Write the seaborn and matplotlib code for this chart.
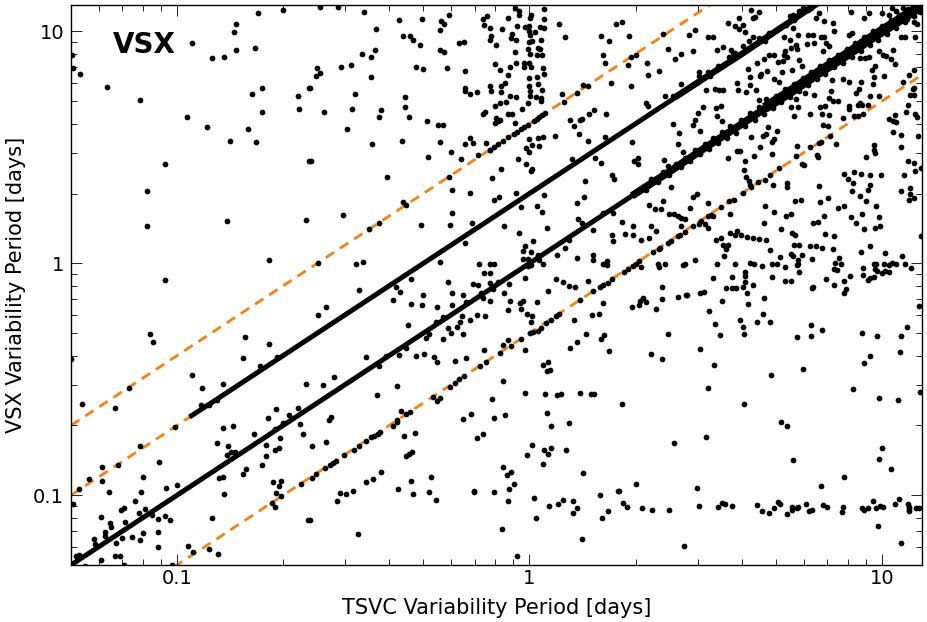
import numpy as np
import pandas as pd
import seaborn as sns
import matplotlib.pyplot as plt
from matplotlib.ticker import FuncFormatter, NullFormatter, LogLocator

# everything below is log10(period in days): (TSVC, VSX)
x_limits = np.array([0.05, 13.0])
y_limits = np.array([0.05, 13.0])
guide_ratios = [0.5, 2.0, 4.0]
x_ticks = [0.1, 1, 10]
y_ticks = [0.1, 1, 10]

# the solid runs of stars along P(VSX) = P(TSVC) and P(VSX) = 2 P(TSVC)
equal_run_tsvc = [-1.301, -1.2, -1.1, -1.0, -0.9, -0.8, -0.7, -0.6, -0.5, -0.4, -0.3, -0.2, -0.1, 0.0,
                  0.1, 0.2, 0.3, 0.4, 0.5, 0.6, 0.7, 0.8, 0.9, 1.0, 1.114]
equal_run_vsx = [-1.301, -1.2, -1.1, -1.0, -0.9, -0.8, -0.7, -0.6, -0.5, -0.4, -0.3, -0.2, -0.1, 0.0,
                 0.1, 0.2, 0.3, 0.4, 0.5, 0.6, 0.7, 0.8, 0.9, 1.0, 1.114]
double_run_tsvc = [-0.959, -0.9, -0.8, -0.7, -0.6, -0.5, -0.4, -0.3, -0.2, -0.1, 0.0, 0.1, 0.2, 0.3,
                   0.4, 0.5, 0.6, 0.7, 0.81]
double_run_vsx = [-0.657, -0.599, -0.499, -0.399, -0.299, -0.199, -0.099, 0.001, 0.101, 0.201, 0.301,
                  0.401, 0.501, 0.601, 0.701, 0.801, 0.901, 1.001, 1.114]

# the same runs where the stars pile up and the band gets wider
equal_band_tsvc = [0.3, 0.4, 0.5, 0.6, 0.7, 0.8, 0.9, 1.0, 1.114]
equal_band_vsx = [0.3, 0.398, 0.5, 0.598, 0.7, 0.802, 0.9, 1.002, 1.114]
equal_band_wide_tsvc = [0.68, 0.75, 0.82, 0.9, 0.97, 1.04, 1.114]
equal_band_wide_vsx = [0.682, 0.75, 0.822, 0.9, 0.972, 1.04, 1.114]
double_band_tsvc = [0.42, 0.5, 0.6, 0.7, 0.81]
double_band_vsx = [0.723, 0.802, 0.9, 1.002, 1.114]

upper_left = [(-1.299, .899), (-1.296, .843), (-1.275, .815), (-1.2, .761), (-1.104, .703), (-1.034, .428),
              (-1.086, .313), (-.972, .632), (-.916, .589), (-.851, .529), (-.8, .579), (-.776, .524),
              (-.788, .73), (-.758, .754), (-.759, .654), (-.658, .72), (-.655, .667), (-.625, .756),
              (-.625, .441), (-.959, .948), (-.902, .885), (-.866, .888), (-.834, .918), (-.839, .999),
              (-.832, 1.03), (-.778, .927), (-.769, 1.079), (-.699, 1.093)]

upper_middle = [(-.593, 1.105), (-.544, 1.105), (-.47, 1.083), (-.371, 1.049), (-.304, 1.052), (-.252, 1.046),
                (-.243, 1.034), (-.229, 1.069), (-.253, 1.007), (-.436, 1.009), (-.359, .981), (-.338, .98),
                (-.331, .963), (-.311, .941), (-.438, .922), (-.475, .904), (-.449, .891), (-.254, .921),
                (-.243, .911), (-.2, .948), (-.186, .955), (-.132, 1.053), (-.12, 1.065), (-.128, 1.027),
                (-.112, 1.013), (-.078, 1.011), (-.061, 1.056), (-.042, 1.101), (-.03, 1.086), (-.03, 1.072),
                (.004, 1.069), (.002, 1.057), (.04, 1.098), (.04, 1.053), (.041, 1.013), (.029, 1.02),
                (-.034, 1.023), (-.014, 1.017), (0, 1.022), (-.002, 1.003), (.002, .986), (.015, .999),
                (-.049, .99), (-.053, .971), (-.039, .963), (-.108, .98), (-.113, .963), (-.096, .941),
                (0, .954), (.008, .957), (.034, .963), (.025, .928), (.029, .925), (-.003, .925),
                (-.04, .911), (.001, .902), (.022, .897), (.035, .899), (-.098, .861), (-.084, .835),
                (-.054, .846), (-.038, .864), (-.016, .864), (-.016, .848), (0, .864), (.004, .846),
                (.039, .843), (.04, .816), (-.061, .813), (.021, .805), (-.001, .799), (.025, .772),
                (0, .764), (.036, .746), (.001, .741), (.001, .723), (.018, .716), (.032, .713),
                (.033, .7), (-.005, .691), (-.02, .667), (-.039, .716), (-.054, .721), (-.068, .695),
                (-.085, .691), (-.097, .68), (-.069, .776), (-.08, .763), (-.081, .739), (-.113, .766),
                (-.109, .741), (-.148, .737), (-.169, .731), (-.182, .754), (-.184, .741), (-.182, .829),
                (-.233, .842), (-.303, .839), (-.322, .845), (-.451, .802), (-.506, .855), (-.534, .845),
                (-.602, .842), (-.593, .82), (-.605, .807), (-.622, .756), (-.496, .73), (-.353, .717),
                (-.352, .675), (-.343, .632), (-.422, .661), (-.426, .631), (-.503, .664), (-.584, .654),
                (-.519, .579), (-.447, .513), (-.363, .526), (-.292, .615), (-.26, .596), (-.246, .596),
                (-.253, .522), (-.287, .458), (-.222, .48), (-.193, .451), (-.182, .516), (-.17, .54),
                (-.159, .519), (-.147, .468), (-.122, .519), (-.113, .49), (-.08, .408), (-.107, .368),
                (-.228, .374), (-.219, .318), (-.17, .305), (-.403, .374), (-.621, .441), (-.358, .263),
                (-.351, .25), (-.101, .273), (-.086, .286), (-.037, .303), (-.025, .241), (.022, .249),
                (.041, .296), (.136, .261), (.156, .284), (.157, .356), (.234, .382), (.241, .364),
                (.202, .434), (.187, .454), (.122, .45), (-.01, .43), (.005, .397), (.008, .407),
                (-.033, .451), (-.001, .48), (-.009, .497), (.008, .509), (.028, .504), (-.001, .536),
                (.025, .54), (.039, .545), (.072, .547), (.141, .556), (.125, .591), (.114, .619),
                (.165, .529), (.213, .545), (.218, .642), (.184, .661), (.168, .642), (.149, .622),
                (.144, .619), (.151, .77), (.165, .764), (.135, .736), (.097, .695), (.092, .731),
                (.232, .776), (.213, .865), (.209, .899), (.226, .96), (.204, .98), (.245, 1.03),
                (.084, 1.033), (.1, .977), (-.126, .651), (-.132, .645), (-.094, .626), (-.088, .615),
                (-.099, .605), (-.083, .616), (-.061, .644), (-.05, .645), (-.041, .605)]

quadruple_run = [(-.113, .49), (-.1, .503), (-.09, .513), (-.075, .528), (-.06, .544), (-.045, .558),
                 (-.035, .568), (-.025, .578), (-.015, .588), (-.005, .598), (.012, .615), (.02, .623),
                 (.028, .631), (.036, .64), (.045, .65)]

upper_right = [(.264, 1.039), (.283, .981), (.281, .856), (.287, .888), (.301, .899), (.333, .865), (.337, .81),
               (.368, .829), (.287, .763), (.393, .924), (.379, .991), (.413, .879), (.429, .904), (.465, .915),
               (.453, .986), (.47, 1.007), (.507, .977), (.52, .977), (.532, .921), (.548, .932), (.562, 1.036),
               (.583, 1.022), (.594, 1.057), (.605, 1.027), (.596, 1.011), (.611, .997), (.635, .978),
               (.629, 1.091), (.652, 1.083), (.633, 1.059), (.641, 1.062), (.572, .921), (.579, .907),
               (.5, .749), (.527, .75), (.537, .747), (.549, .747), (.59, .776), (.592, .749), (.614, .738),
               (.627, .802), (.62, .838), (.645, .862), (.665, .881), (.68, .899), (.695, .899), (.705, .868),
               (.719, .871), (.725, .917), (.721, .899), (.731, .889), (.743, .928), (.758, .925), (.764, .878),
               (.774, .853), (.744, .835), (.716, .826), (.695, .796), (.707, .784), (.674, .828), (.657, .818),
               (.653, .806), (.627, .77), (.643, .749), (.651, .705), (.672, .71), (.529, .671), (.544, .68),
               (.492, .672), (.478, .647), (.47, .618), (.463, .598), (.407, .601), (.425, .56), (.422, .516),
               (.483, .57), (.531, .634), (.547, .612), (.292, .524), (.308, .454), (.296, .441), (.309, .427),
               (.381, .447), (.392, .421), (.435, .481), (.562, .454), (.588, .483), (.598, .484), (.612, .443),
               (.61, .404), (.636, .464), (.653, .5), (.629, .543), (.662, .55), (.671, .557), (.676, .588),
               (.702, .57), (.695, .537), (.688, .524), (.688, .471), (.76, .504), (.756, .461), (.796, .501),
               (.819, .458), (.817, .467), (.826, .522), (.853, .55), (.871, .516), (.834, .596), (.848, .59),
               (.831, .644), (.851, .638), (.825, .675), (.839, .677), (.875, .698), (.861, .698), (.851, .713),
               (.857, .741), (.908, .667), (.906, .677), (.891, .626), (.922, .635), (.932, .684), (.943, .684),
               (.961, .684), (.938, .693), (.967, .72), (.993, .72), (.936, .751), (.928, .734), (.941, .784),
               (.975, .774), (.978, .802), (.973, .835), (1.007, .806), (1.036, .861), (1.026, .881), (.98, .853),
               (.963, .888), (.951, .885), (.937, .885), (.908, .783), (.889, .796), (.859, .792), (.807, .727),
               (.781, .733), (.755, .71), (.761, .674), (.751, .637), (.743, .674), (.795, .644), (1.076, .81),
               (1.091, .832), (1.059, .78), (1.09, .756), (1.08, .724), (1.091, .724), (1.074, .681), (1.068, .651),
               (1.095, .644), (1.099, .629), (1.019, .624), (1.037, .641), (1.031, .612), (1.04, .611), (1.033, .565),
               (1.054, .552), (1.103, .55), (1.055, .501), (.977, .509), (.979, .487), (.981, .476), (.954, .458),
               (1.075, .443), (1.09, .434), (1.111, .411), (1.094, .397), (1.062, .382), (.999, .382), (.965, .382),
               (.942, .387), (.922, .395), (.893, .385), (.904, .364), (.919, .345), (.966, .338), (.962, .318),
               (.915, .31), (.937, .292), (.956, .267), (.983, .246), (1.053, .312), (1.08, .323), (1.08, .297),
               (1.076, .272), (1.09, .282), (.823, .333), (.825, .263), (.846, .283), (.876, .237), (.892, .249),
               (.754, .269), (.771, .274), (.669, .247), (.732, .348), (.732, .331), (.692, .336), (.508, .261),
               (.476, .299), (.463, .287), (.401, .328), (.456, .238), (.338, .25), (.378, .267), (.355, .236),
               (.374, .236), (.615, .372), (.622, .353), (.626, .339), (.607, .305)]

half_run_upper = [(.544, .241), (.567, .267), (.58, .272), (.629, .328), (.648, .349), (.667, .358), (.683, .379),
                  (.709, .411), (.78, .425), (.773, .428), (.823, .519), (.946, .644), (.931, .634), (1.088, .753)]

double_run_scatter = [(.332, .691), (.337, .68), (.385, .72), (.407, .72), (.429, .773), (.435, .741), (.482, .823),
                      (.48, .806), (.478, .784), (.506, .825), (.511, .806), (.534, .849), (.567, .888), (.582, .907),
                      (.605, .935), (.624, .957), (.652, .971), (.667, .957), (.681, .993), (.7, 1.007), (.729, 1.029),
                      (.738, 1.065), (.752, 1.05), (.766, 1.086), (.79, 1.093), (.823, 1.079), (.813, 1.057),
                      (.799, 1.101), (.79, .986), (.804, .986), (.827, .978), (.835, .978), (.787, .945), (.807, .95),
                      (.842, .95), (.851, .935), (.832, .914), (.738, .964), (.757, .943), (.747, 1.014), (.723, .978),
                      (.761, .986), (.747, 1.072), (.775, 1.101), (.86, 1.036), (.912, 1.082), (.95, 1.057), (.963, 1.079),
                      (.837, 1.043), (.865, 1.003), (.908, .986), (.914, .993), (.942, .96), (.96, .971), (.993, .914),
                      (1.002, .899), (1.012, .892), (1.031, .921), (1.053, .978), (1.067, .978), (1.095, .978)]

equal_run_scatter = [(.33, .318), (.345, .362), (.365, .35), (.38, .395), (.395, .382), (.415, .43), (.43, .417),
                     (.44, .455), (.455, .44), (.47, .487), (.485, .47), (.497, .515), (.51, .493), (.52, .54),
                     (.535, .517), (.545, .565), (.56, .54), (.57, .592), (.585, .563), (.6, .62), (.612, .592),
                     (.625, .65), (.64, .618), (.65, .675), (.665, .645), (.675, .7), (.69, .668), (.7, .722),
                     (.715, .695), (.725, .75), (.74, .718), (.75, .775), (.765, .745), (.775, .8), (.79, .77),
                     (.8, .825), (.815, .795), (.825, .85), (.84, .815), (.85, .875), (.865, .845), (.875, .9),
                     (.89, .865), (.9, .925), (.915, .89), (.925, .95), (.94, .915), (.95, .975), (.965, .94),
                     (.975, 1.0), (.99, .965), (1.0, 1.025), (1.015, .99), (1.025, 1.05), (1.04, 1.015), (1.05, 1.07),
                     (1.065, 1.04), (1.075, 1.095), (1.09, 1.065), (1.1, 1.105), (1.108, 1.085), (1.02, 1.07),
                     (1.04, 1.09), (1.06, 1.1), (1.08, 1.08), (1.09, 1.04), (1.1, 1.03), (1.05, 1.045), (1.03, 1.1),
                     (1.0, 1.08), (1.07, 1.055), (-.407, -.401), (-.265, -.253), (-.246, -.233), (-.18, -.167),
                     (-.137, -.128), (-.132, -.149), (-.104, -.109), (-.09, -.082), (-.005, -.013), (.028, .016),
                     (.113, .102), (.208, .217), (.236, .217), (-.723, -.713), (-.7, -.688)]

middle_left = [(-1.085, .159), (-.858, .182), (-.633, .185), (-.738, .013), (-1.035, -.073), (-1.078, -.305),
               (-1.069, -.338), (-.807, -.318), (-.739, -.349), (-1.3, -.412), (-.812, -.407), (-.717, -.404),
               (-.957, -.48), (-.765, -.444), (-.93, -.537), (-.869, -.52), (-.634, -.519), (-1.136, -.539),
               (-1.27, -.606), (-1.177, -.622), (-.933, -.612), (-.909, -.609), (-.888, -.588), (-.742, -.667),
               (-.72, -.628), (-.657, -.624), (-.681, -.655)]

middle_middle = [(-.53, .21), (-.428, .172), (-.454, .148), (-.599, .001), (-.492, -.001), (-.472, .007), (-.307, .167),
                 (-.226, .165), (-.22, .217), (-.162, .172), (-.073, .162), (-.031, .131), (.051, .152), (.035, .221),
                 (-.484, -.116), (-.386, -.157), (-.368, -.125), (-.379, -.103), (-.337, -.069), (-.301, -.138),
                 (-.337, -.174), (-.304, -.181), (-.263, -.187), (-.577, -.19), (-.6, -.221), (-.344, -.264),
                 (-.254, .004), (-.182, .089), (-.23, -.079), (-.22, -.126), (-.188, -.136), (-.22, -.178),
                 (-.16, -.089), (-.145, -.093), (-.143, -.004), (-.111, -.003), (-.101, -.003), (-.128, -.042),
                 (-.113, -.042), (-.111, -.086), (-.059, -.091), (-.071, -.129), (-.113, -.164), (-.055, -.164),
                 (-.062, -.201), (-.027, -.172), (-.019, -.161), (-.023, -.197), (.022, -.165), (-.006, -.22),
                 (.007, -.226), (.005, -.254), (-.012, -.063), (.054, -.118), (.074, -.068), (.096, -.08),
                 (.112, -.098), (.128, -.102), (.167, -.075), (.143, -.159), (.209, -.172), (.197, -.218),
                 (.177, -.224), (.126, -.246), (.135, .023), (.181, .034), (.181, .016), (.208, -.003), (.22, .011),
                 (.219, -.006), (.077, .036), (.1, .066), (.011, .098), (-.012, .076), (-.017, .052), (.003, .049),
                 (-.019, .02), (-.005, .02), (.003, -.006), (.024, .037), (.038, -.001), (.233, .124), (.236, .096),
                 (.179, .142), (.138, .19), (.149, .174), (-.191, -.227), (-.197, -.251), (-.17, -.243), (-.149, -.224),
                 (-.127, -.226), (-.205, -.274), (-.232, -.279), (-.223, -.299), (-.19, -.303), (-.244, -.325),
                 (-.293, -.322), (-.284, -.306), (-.13, -.374), (-.012, -.375), (.114, -.366), (.136, -.339),
                 (.161, -.305), (.211, -.31), (.202, -.328), (.226, -.379), (-.323, -.399), (-.298, -.389),
                 (-.465, -.405), (-.369, -.394), (-.35, -.365), (-.27, -.405), (-.263, -.425), (-.211, -.421),
                 (-.179, -.409), (-.14, -.444), (-.123, -.425), (-.426, -.444), (-.586, -.526), (-.555, -.489),
                 (-.375, -.529), (-.433, -.57), (-.274, -.576), (-.255, -.583), (-.261, -.595), (-.364, -.636),
                 (-.339, -.641), (-.35, -.652), (-.563, -.661), (-.57, -.674), (-.375, -.675), (-.189, -.67),
                 (-.167, -.652), (-.102, -.668), (-.069, -.655), (-.106, -.585), (-.075, -.506), (-.012, -.559),
                 (.043, -.563), (.077, -.568), (.09, -.563), (.142, -.559), (.174, -.565), (.184, -.565),
                 (.049, -.647), (.038, -.438), (.054, -.425), (.051, -.463), (.059, -.458), (-.075, -.351),
                 (-.061, -.332), (-.053, -.355), (-.025, -.326), (-.085, -.386), (-.225, -.532), (-.212, -.516),
                 (-.199, -.501), (-.187, -.488), (.002, -.302), (.011, -.296), (.024, -.29), (.033, -.279),
                 (.047, -.257), (.061, -.243), (.076, -.228), (.085, -.218), (.18, -.121), (.199, -.103),
                 (.208, -.095), (.222, -.085), (.235, -.068)]

middle_right = [(.262, .18), (.293, .161), (.271, .128), (.293, .121), (.317, .099), (.338, .111), (.344, .162),
                (.359, .139), (.431, .162), (.506, .152), (.52, .203), (.569, .211), (.666, .175), (.695, .221),
                (.728, .203), (.743, .211), (.837, .204), (.912, .2), (.944, .211), (.993, .2), (.926, .174),
                (.95, .149), (.981, .154), (.994, .161), (.804, .175), (.818, .177), (.713, .148), (.745, .131),
                (.753, .121), (.84, .128), (.863, .116), (1.111, .118), (.528, .102), (.543, .109), (.568, .132),
                (.588, .139), (.582, .124), (.6, .121), (.617, .112), (.634, .109), (.651, .106), (.671, .099),
                (.548, .08), (.563, .08), (.558, .06), (.553, .033), (.684, .057), (.71, .027), (.752, .079),
                (.766, .079), (.796, .073), (.812, .075), (.829, .068), (.86, .062), (.941, .05), (.967, .075),
                (1.009, .043), (1.057, .033), (.742, .04), (.749, .033), (.773, .037), (.801, .02), (.761, .013),
                (.761, -.003), (.758, -.006), (.877, .022), (.867, .003), (.884, -.003), (.865, -.024), (.872, -.03),
                (.977, -.001), (.983, -.001), (1.005, -.003), (1.029, .001), (1.04, -.003), (1.066, -.003),
                (1.083, -.022), (1.021, -.009), (.981, -.023), (.985, -.034), (1.008, -.032), (1.0, -.042),
                (1.019, -.039), (.946, -.022), (.947, -.049), (.911, -.053), (.979, -.059), (.966, -.063),
                (.961, -.072), (.892, -.076), (.897, -.109), (.892, -.128), (.864, -.093), (.841, -.066),
                (.805, -.102), (.802, -.106), (.765, -.039), (.726, -.016), (.726, -.075), (.741, -.076),
                (.703, -.004), (.689, -.003), (.661, -.011), (.637, -.001), (.626, .003), (.583, -.003),
                (.532, -.004), (.469, .013), (.441, -.003), (.436, -.009), (.386, -.003), (.365, -.003),
                (.369, -.017), (.316, -.017), (.522, -.065), (.576, -.059), (.613, -.036), (.613, -.056),
                (.611, -.079), (.605, -.101), (.634, -.095), (.558, -.108), (.574, -.105), (.585, -.105),
                (.616, -.126), (.496, -.122), (.484, -.126), (.546, -.162), (.62, -.175), (.666, -.151),
                (.509, -.204), (.526, -.263), (.541, -.309), (.598, -.246), (.606, -.274), (.609, -.305),
                (.646, -.253), (.663, -.22), (.682, -.253), (.688, -.06), (.375, -.102), (.376, -.155),
                (.421, -.145), (.443, -.138), (.448, -.138), (.323, -.151), (.33, -.168), (.314, -.161),
                (.31, -.178), (.291, -.19), (.358, -.197), (.393, -.305), (.345, -.392), (.375, -.412),
                (.485, -.369), (.525, -.437), (.506, -.539), (.263, -.608), (.61, -.606), (.686, -.481),
                (.775, -.455), (.76, -.318), (.799, -.312), (.8, -.267), (.83, -.287), (.944, -.3), (.986, -.315),
                (1.055, -.313), (1.07, -.274), (1.051, -.384), (.967, -.398), (.949, -.432), (.917, -.54),
                (.992, -.58), (1.046, -.591), (1.107, -.555), (1.105, -.182), (.269, -.036), (.28, -.023),
                (.293, -.01), (.303, -.001), (.312, .009), (.35, .047), (.367, .063), (.371, .066), (.392, .086),
                (.402, .095), (.421, .116), (.428, .124), (.44, .135), (.465, .159), (.482, .17), (.487, .181),
                (.499, .171), (.506, .203), (.515, .21), (.397, .213), (.411, .213), (.421, .203), (.43, .196),
                (.44, .19)]

lower_left = [(-1.006, -.705), (-.87, -.71), (-.84, -.701), (-.782, -.734), (-.652, -.695), (-.644, -.734),
              (-.707, -.754), (-.888, -.773), (-.856, -.79), (-.748, -.783), (-1.105, -.789), (-.712, -.796),
              (-.722, -.803), (-.858, -.825), (-.747, -.829), (-.846, -.813), (-.836, -.815), (-1.05, -.856),
              (-1.213, -.879), (-1.169, -.868), (-.76, -.871), (-.804, -.885), (-.814, -.909), (-.881, -.927),
              (-.87, -.92), (-1.097, -.92), (-1.249, -.931), (-1.213, -.94), (-1.277, -.974), (-1.192, -.986),
              (-1.103, -.986), (-1.001, -.954), (-1.032, -.97), (-.867, -.996), (-1.295, -1.04), (-1.12, -1.023),
              (-1.159, -1.063), (-1.151, -1.055), (-1.216, -1.094), (-1.191, -1.122), (-1.188, -1.138),
              (-1.147, -1.115), (-1.109, -1.076), (-1.09, -1.06), (-1.07, -1.086), (-1.055, -1.101), (-1.033, -1.088),
              (-1.021, -1.105), (-.901, -1.099), (-1.055, -1.158), (-1.097, -1.164), (-1.129, -1.181), (-1.105, -1.193),
              (-1.205, -1.158), (-1.205, -1.175), (-1.155, -1.184), (-1.172, -1.205), (-1.236, -1.19), (-1.233, -1.209),
              (-1.054, -1.223), (-1.177, -1.262), (-1.163, -1.262), (-1.215, -1.281), (-1.152, -1.303), (-1.262, -1.307),
              (-1.015, -1.303), (-.968, -1.22), (-.955, -1.246), (-.91, -1.234), (-.884, -1.253), (-1.279, -1.256),
              (-1.286, -1.264), (-.728, -.945), (-.704, -.937), (-.712, -.961), (-.72, -.99), (-.705, -1.003),
              (-.731, -1.032), (-.722, -1.05), (-.647, -.95), (-.629, -1.105)]

lower_middle = [(-.617, -.787), (-.577, -.772), (-.356, -.746), (-.326, -.73), (-.35, -.829), (-.343, -.822),
                (-.333, -.812), (-.148, -.752), (-.133, -.737), (.061, -.703), (.113, -.687), (.008, -.782),
                (-.007, -.826), (.042, -.805), (.054, -.823), (.061, -.795), (.103, -.805), (.037, -.865),
                (-.075, -.878), (-.051, -.9), (-.065, -.913), (-.044, -.95), (-.059, -.974), (.152, -.905),
                (-.101, -.986), (-.157, -.98), (-.157, -.987), (-.06, -1.025), (.013, -1.014), (.018, -1.099),
                (.056, -1.047), (.081, -1.04), (.096, -1.022), (.124, -1.023), (.134, -1.055), (.123, -1.078),
                (.2, -.999), (.252, -.981), (.224, -1.068), (.207, -1.099), (.149, -1.19), (-.078, -1.147),
                (-.034, -1.262), (-.487, -1.168), (-.624, -1.105), (-.421, -.898), (-.443, -.932), (-.465, -.944),
                (-.501, -.98), (-.52, -.997), (-.539, -.99), (-.545, -1.023), (-.374, -.974), (-.335, -.94),
                (-.331, -.994), (-.279, -.921), (-.285, -.986), (-.264, -1.02), (-.616, -.924), (-.605, -.907),
                (-.58, -.882), (-.567, -.871), (-.558, -.861), (-.55, -.853), (-.525, -.826), (-.499, -.803),
                (-.485, -.787), (-.465, -.767), (-.449, -.749), (-.44, -.743), (-.43, -.734), (-.424, -.727),
                (-.388, -.703), (-.375, -.685)]

lower_right = [(.301, -.953), (.255, -.98), (.265, -1.032), (.277, -1.049), (.318, -1.056), (.347, -1.065),
               (.397, -1.065), (.409, -.777), (.502, -.747), (.475, -.969), (.48, -1.045), (.438, -1.217),
               (.534, -1.053), (.545, -1.035), (.556, -1.039), (.574, -1.047), (.647, -1.043), (.661, -1.069),
               (.679, -1.076), (.694, -1.056), (.706, -1.03), (.712, -1.036), (.73, -1.079), (.744, -1.052),
               (.744, -1.066), (.758, -1.057), (.763, -1.052), (.786, -1.04), (.793, -1.069), (.802, -1.062),
               (.832, -1.043), (.843, -1.053), (.89, -1.049), (.888, -1.072), (.945, -1.056), (.95, -1.062),
               (.96, -1.056), (.974, -1.026), (.983, -1.056), (.996, -1.045), (1.002, -1.053), (1.037, -1.04),
               (1.05, -1.017), (1.075, -1.04), (1.076, -1.052), (1.076, -1.06), (1.076, -1.07), (1.097, -1.055),
               (1.105, -1.056), (.99, -1.132), (1.053, -1.208), (.993, -.846), (1.001, -.795), (1.026, -.888),
               (.892, -.923), (.828, -.961), (.748, -.848), (.73, -.7), (.713, -.685)]

regions = [upper_left, upper_middle, quadruple_run, upper_right, half_run_upper, double_run_scatter,
           equal_run_scatter, middle_left, middle_middle, middle_right, lower_left, lower_middle, lower_right]

stars = pd.DataFrame([p for region in regions for p in region], columns=['tsvc', 'vsx'])
stars = 10.0 ** stars

fig = plt.figure(figsize=(9.28, 6.22), dpi=100)
ax = fig.add_axes([71 / 928, 1 - 565 / 622, 851 / 928, 560 / 622])
ax.set_xscale('log')
ax.set_yscale('log')

for ratio in guide_ratios:
    ax.plot(x_limits, ratio * x_limits, color='#ff7f0e', lw=2.0, dashes=(3.6, 2.5), zorder=1)

# (tsvc, vsx, line width)
runs = [(equal_run_tsvc, equal_run_vsx, 3.6), (double_run_tsvc, double_run_vsx, 3.6),
        (equal_band_tsvc, equal_band_vsx, 5.5), (equal_band_wide_tsvc, equal_band_wide_vsx, 7.5),
        (double_band_tsvc, double_band_vsx, 4.6)]
for tsvc, vsx, width in runs:
    sns.lineplot(x=10.0 ** np.array(tsvc), y=10.0 ** np.array(vsx), sort=False, estimator=None,
                 color='black', lw=width, ax=ax, zorder=2)
sns.scatterplot(data=stars, x='tsvc', y='vsx', color='black', s=17, linewidth=0, ax=ax, zorder=3)

ax.set_xlim(x_limits)
ax.set_ylim(y_limits)
ax.set_xticks(x_ticks)
ax.set_yticks(y_ticks)
for axis in (ax.xaxis, ax.yaxis):
    axis.set_major_formatter(FuncFormatter(lambda v, pos: '%g' % v))
    axis.set_minor_locator(LogLocator(base=10, subs=np.arange(2, 10), numticks=12))
    axis.set_minor_formatter(NullFormatter())
ax.tick_params(which='major', direction='in', top=True, right=True, length=8, width=0.6, labelsize=14)
ax.tick_params(which='minor', direction='in', top=True, right=True, length=4.3, width=0.6)
ax.tick_params(axis='x', which='major', pad=3)
ax.tick_params(axis='y', which='major', pad=5)
for spine in ax.spines.values():
    spine.set_linewidth(1.0)

ax.set_xlabel('TSVC Variability Period [days]', fontsize=15, labelpad=7)
ax.set_ylabel('VSX Variability Period [days]', fontsize=15, labelpad=5)
ax.text(113, 622 - 45, 'VSX', transform=None, fontsize=20, fontweight='bold', va='center', ha='left')

fig.savefig('out.png', dpi=100)
